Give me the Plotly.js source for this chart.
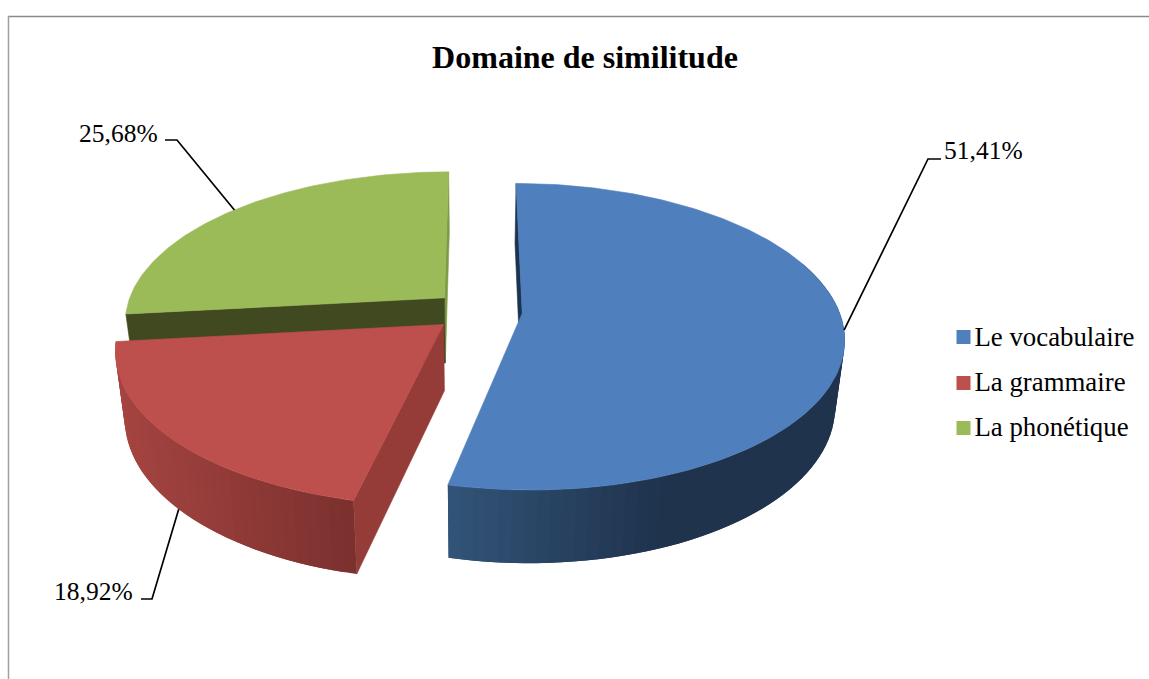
<!DOCTYPE html>
<html>
<head>
<meta charset="utf-8">
<script src="https://cdn.plot.ly/plotly-3.0.1.min.js"></script>
<style>html,body{margin:0;padding:0;background:#fff}</style>
</head>
<body>
<div id="chart" style="width:1149px;height:679px"></div>
<script>
// ---- data ----
const categories = ["Le vocabulaire", "La grammaire", "La phonétique"];
const shares = [51.41, 18.92, 25.68];
const shareLabels = ["51,41%", "18,92%", "25,68%"];
const chartTitle = "Domaine de similitude";

// ---- styles ----
const topColors = ["#4f7fbc", "#bd4f4c", "#9bbb59"];
const rimLeftColors = [[50, 84, 120], [165, 68, 65], [64, 73, 31]];
const rimRightColors = [[31, 51, 77], [122, 48, 46], [64, 73, 31]];
const rimGradientX = [[447, 660], [118, 356], [120, 445]];
const endFaceColors = ["#1c3350", "#953c39", "#7f9a45"];
const FONT = '"Liberation Serif", "Times New Roman", serif';

// ---- projection of the tilted pie, in axis units ----
const Xc = 476, Yc = 311, A = 320, B = 149, K = 0.153;
const EXPLODE = [0.145, 0.134, 0.134], RADIUS_X = [0.99, 0.997, 0.997];
const LOWER_SCALE = 0.974, LOWER_Y_SCALE = 1.042, LOWER_Y_SHIFT = 52.6;
const project = (x, z) => {
  const w = 1 - K * z;
  return [Xc + A * x / w, Yc + B * z / w];
};
const lower = p => [Xc + (p[0] - Xc) * LOWER_SCALE, p[1] * LOWER_Y_SCALE + LOWER_Y_SHIFT];

const total = shares.reduce((a, b) => a + b, 0);
const bounds = [0];
shares.forEach(v => bounds.push(bounds[bounds.length - 1] + v / total * 360));
const rad = d => d * Math.PI / 180;
const midAngle = i => (bounds[i] + bounds[i + 1]) / 2;
const offset = i => [EXPLODE[i] * Math.sin(rad(midAngle(i))), -0.134 * Math.cos(rad(midAngle(i)))];
const apex = i => { const o = offset(i); return project(o[0], o[1]); };
const rim = (i, deg) => {
  const o = offset(i);
  return project(o[0] + RADIUS_X[i] * Math.sin(rad(deg)), o[1] - Math.cos(rad(deg)));
};

const traces = [];
const poly = (pts, color, lineWidth) => traces.push({
  type: "scatter", mode: "lines", fill: "toself", fillcolor: color,
  x: pts.map(p => p[0]).concat([pts[0][0]]),
  y: pts.map(p => p[1]).concat([pts[0][1]]),
  line: {color: color, width: lineWidth === undefined ? 0.6 : lineWidth}, showlegend: false, hoverinfo: "skip"
});
const mix = (i, X) => {
  const g = rimGradientX[i];
  const t = Math.max(0, Math.min(1, (X - g[0]) / (g[1] - g[0])));
  const c = rimLeftColors[i].map((v, k) => Math.round(v + (rimRightColors[i][k] - v) * t));
  return "rgb(" + c.join(",") + ")";
};
// each strip reaches past the next one, and the next one is painted over it, so no seams show
const drawRim = (i, from, to) => {
  const n = Math.max(2, Math.ceil((to - from) / 2));
  const stepDeg = (to - from) / n;
  for (let s = 0; s < n; s++) {
    const d0 = from + stepDeg * s, d1 = d0 + stepDeg;
    const a = rim(i, d0), b = rim(i, Math.min(to, d1 + stepDeg)), c = rim(i, (d0 + d1) / 2);
    poly([a, b, lower(b), lower(a)], mix(i, c[0]), 0);
  }
};
const drawTop = i => {
  const pts = [apex(i)];
  for (let d = bounds[i]; d < bounds[i + 1]; d += 1) pts.push(rim(i, d));
  pts.push(rim(i, bounds[i + 1]));
  poly(pts, topColors[i]);
};
const radialFace = (i, deg, color) => {
  const c = apex(i), r = rim(i, deg);
  poly([c, r, lower(r), lower(c)], color);
};

// green (back), then red, then blue
radialFace(2, bounds[3], endFaceColors[2]);
radialFace(2, bounds[2], "#40491f");
drawTop(2);
radialFace(1, bounds[1], endFaceColors[1]);
drawRim(1, bounds[1], bounds[2]);
drawTop(1);
radialFace(0, bounds[0], endFaceColors[0]);
drawRim(0, 70, bounds[1]);
drawTop(0);

// leader lines
const elbows = [[[941, 159], [928, 159]], [[141, 599], [152, 599]], [[165, 140], [177, 140]]];
const anchors = [rim(0, midAngle(0)), lower(rim(1, midAngle(1))), rim(2, midAngle(2))];
categories.forEach((c, i) => {
  const pts = elbows[i].concat([anchors[i]]);
  traces.push({type: "scatter", mode: "lines", x: pts.map(p => p[0]), y: pts.map(p => p[1]),
    line: {color: "#000", width: 1.7}, showlegend: false, hoverinfo: "skip"});
});

// legend entries: the library's legend sets the text; its key sits too far from the text here,
// so the squares are plotted at the key position of the reference
const swatchX = 963.5, swatchY = [337, 383, 428];
categories.forEach((c, i) => traces.push({
  type: "scatter", mode: "markers", name: c, legendgroup: c, x: [null], y: [null],
  marker: {symbol: "square", size: 14, color: "rgba(0,0,0,0)"}
}));
traces.push({
  type: "scatter", mode: "markers", x: swatchY.map(() => swatchX), y: swatchY, showlegend: false, hoverinfo: "skip",
  marker: {symbol: "square", size: 14, color: topColors, line: {width: 0}}
});

const labelPos = [[944, 150, "left"], [133, 591, "right"], [158, 133, "right"]];
const layout = {
  width: 1149, height: 679, margin: {l: 0, r: 0, t: 0, b: 0},
  paper_bgcolor: "#fff", plot_bgcolor: "#fff",
  xaxis: {range: [0, 1149], visible: false, fixedrange: true},
  yaxis: {range: [679, 0], visible: false, fixedrange: true},
  title: {text: "<b>" + chartTitle + "</b>", x: 585 / 1149, xanchor: "center",
          y: 1 - 57 / 679, yanchor: "middle", font: {family: FONT, size: 32, color: "#000"}},
  showlegend: true,
  legend: {x: 943.5 / 1149, xanchor: "left", y: 1 - 312 / 679, yanchor: "top", bgcolor: "rgba(0,0,0,0)",
           font: {family: FONT, size: 26.8, color: "#000"}, tracegroupgap: 7, traceorder: "grouped", indentation: -9},
  annotations: categories.map((c, i) => ({
    xref: "x", yref: "y", x: labelPos[i][0], y: labelPos[i][1], xanchor: labelPos[i][2], yanchor: "middle",
    text: shareLabels[i], showarrow: false, font: {family: FONT, size: 25.5, color: "#000"}, borderpad: 0, borderwidth: 0
  })),
  shapes: [
    {type: "line", xref: "paper", yref: "paper", x0: 8 / 1149, x1: 1, y0: 1 - 16.5 / 679, y1: 1 - 16.5 / 679, line: {color: "#8a8a8a", width: 1.5}},
    {type: "line", xref: "paper", yref: "paper", x0: 8.5 / 1149, x1: 8.5 / 1149, y0: 1 - 16 / 679, y1: 0, line: {color: "#a0a0a0", width: 1.5}}
  ]
};
Plotly.newPlot("chart", traces, layout, {displayModeBar: false, staticPlot: true});
</script>
</body>
</html>
